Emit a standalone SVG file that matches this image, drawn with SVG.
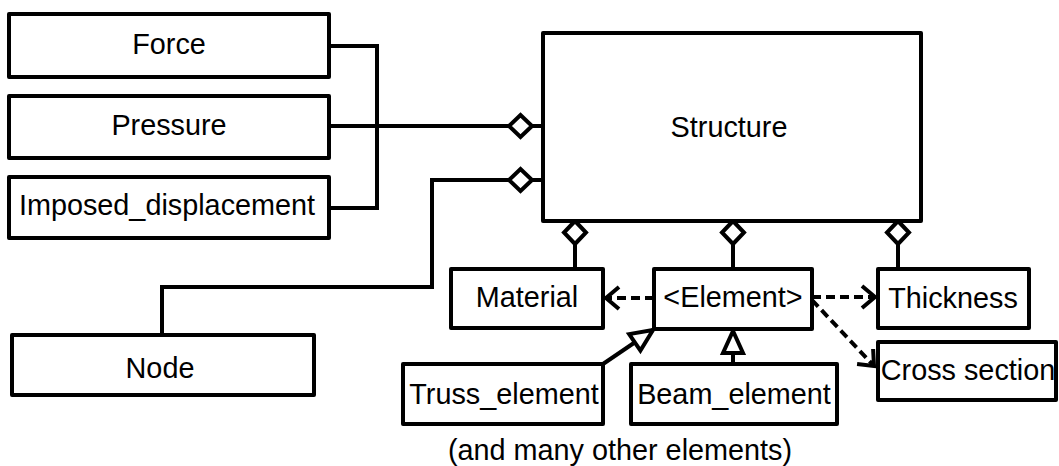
<svg xmlns="http://www.w3.org/2000/svg" width="1059" height="466" viewBox="0 0 1059 466">
<style>
.box{fill:#fff;stroke:#000;stroke-width:4;stroke-linejoin:round}
.t{font-family:"Liberation Sans",Arial,sans-serif;font-size:28.8px;fill:#000;text-anchor:middle}
.ln{fill:none;stroke:#000;stroke-width:4}
.dash{fill:none;stroke:#000;stroke-width:4;stroke-dasharray:9 5}
</style>
<defs>
<marker id="diamond" markerUnits="userSpaceOnUse" viewBox="-3 -14 30 28" markerWidth="30" markerHeight="28" refX="0" refY="0" orient="auto">
<path d="M0,0 L11.5,-11 L23,0 L11.5,11 Z" fill="#fff" stroke="#000" stroke-width="4"/>
</marker>
<marker id="open" markerUnits="userSpaceOnUse" viewBox="-18 -16 22 32" markerWidth="22" markerHeight="32" refX="0" refY="0" orient="auto">
<path d="M-13,-11 L0,0 L-13,11" fill="none" stroke="#000" stroke-width="4"/>
</marker>
<marker id="tri" markerUnits="userSpaceOnUse" viewBox="-26 -14 30 28" markerWidth="30" markerHeight="28" refX="0" refY="0" orient="auto">
<path d="M0,0 L-22,-10 L-22,10 Z" fill="#fff" stroke="#000" stroke-width="4" stroke-linejoin="miter"/>
</marker>
</defs>
<g id="connectors">
<path class="ln" d="M329,46 H377 V208 H329"/>
<path class="ln" d="M543,126 H532"/>
<path class="ln" d="M532,126 H329" marker-start="url(#diamond)"/>
<path class="ln" d="M546,180 H532"/>
<path class="ln" d="M532,180 H432 V287 H162 V335" marker-start="url(#diamond)"/>
<path class="ln" d="M575,221 V269" marker-start="url(#diamond)"/>
<path class="ln" d="M733,221 V269" marker-start="url(#diamond)"/>
<path class="ln" d="M898,221 V269" marker-start="url(#diamond)"/>
<path class="dash" d="M654,298 H606" marker-end="url(#open)"/>
<path class="dash" d="M812,297 H875" marker-end="url(#open)"/>
<path class="dash" d="M812,300 L874,366" marker-end="url(#open)"/>
<path class="ln" d="M603,364 L653,330" marker-end="url(#tri)"/>
<path class="ln" d="M733,364 V331" marker-end="url(#tri)"/>
</g>
<g id="force"><rect class="box" x="9" y="14" width="320" height="63"/><text class="t" x="169" y="54">Force</text></g>
<g id="pressure"><rect class="box" x="9" y="96" width="320" height="62"/><text class="t" x="169" y="135">Pressure</text></g>
<g id="imposed"><rect class="box" x="9" y="177" width="320" height="61"/><text class="t" x="167" y="215">Imposed_displacement</text></g>
<g id="structure"><rect class="box" x="543" y="33" width="378" height="188"/><text class="t" x="729" y="137">Structure</text></g>
<g id="node"><rect class="box" x="12" y="335" width="302" height="60"/><text class="t" x="160" y="378">Node</text></g>
<g id="material"><rect class="box" x="451" y="269" width="152" height="59"/><text class="t" x="527" y="307">Material</text></g>
<g id="element"><rect class="box" x="654" y="269" width="158" height="60"/><text class="t" x="733" y="307">&lt;Element&gt;</text></g>
<g id="thickness"><rect class="box" x="878" y="269" width="151" height="59"/><text class="t" x="953" y="308">Thickness</text></g>
<g id="cross"><rect class="box" x="878" y="342" width="178" height="58"/><text class="t" x="968" y="380">Cross section</text></g>
<g id="truss"><rect class="box" x="403" y="364" width="200" height="60"/><text class="t" x="504" y="404">Truss_element</text></g>
<g id="beam"><rect class="box" x="631" y="364" width="206" height="60"/><text class="t" x="734" y="404">Beam_element</text></g>
<text class="t" x="620" y="460">(and many other elements)</text>
</svg>
